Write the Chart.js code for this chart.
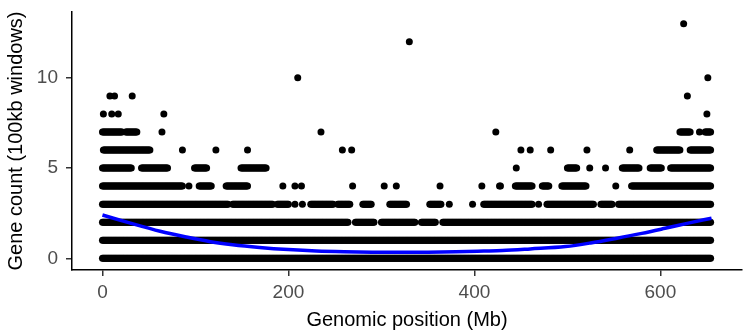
<!DOCTYPE html>
<html>
<head>
<meta charset="utf-8">
<script src="https://cdn.jsdelivr.net/npm/chart.js@4.4.0/dist/chart.umd.min.js"></script>
<style>
  html, body { margin: 0; padding: 0; background: #fff; }
  #wrap { width: 746px; height: 332px; }
</style>
</head>
<body>
<div id="wrap"><canvas id="geneChart" width="746" height="332"></canvas></div>
<script>
// Gene count levels and the runs of 100kb windows (start Mb, end Mb) found at each level.
const geneCounts = [0, 1, 2, 3, 4, 5, 6, 7, 8, 9, 10, 12, 13];
const windowRuns = [
    [[0, 654]],
    [[0, 654]],
    [[0, 264], [272, 292], [300, 336], [343, 358], [366, 654]],
    [[0, 135], [140, 183], [188, 200], [207, 207], [215, 215], [224, 248], [253, 266], [280, 289],
     [309, 327], [352, 364], [373, 373], [398, 398], [410, 462], [469, 469], [478, 528], [536, 548], [555, 654]],
    [[0, 86], [93, 93], [104, 117], [133, 156], [194, 194], [207, 207], [214, 214], [269, 269], [303, 303], [316, 316],
     [363, 363], [408, 408], [427, 428], [444, 462], [473, 480], [494, 520], [552, 552], [569, 654]],
    [[0, 31], [42, 70], [99, 112], [149, 176], [445, 445], [500, 510], [524, 524], [541, 541],
     [559, 577], [589, 601], [611, 654]],
    [[1, 51], [86, 86], [122, 122], [156, 156], [258, 258], [268, 268], [450, 450], [460, 460],
     [482, 482], [521, 521], [567, 567], [596, 621], [632, 654]],
    [[0, 21], [25, 37], [64, 64], [235, 235], [423, 423], [621, 632], [642, 642], [648, 654]],
    [[1, 1], [10, 10], [17, 17], [66, 66], [650, 650]],
    [[8, 8], [13, 13], [32, 32], [629, 629]],
    [[210, 210], [651, 651]],
    [[330, 330]],
    [[625, 625]]
];

// Loess fit
const smoothPos = [0, 30, 62, 90, 116, 140, 169, 200, 230, 260, 290, 320, 350, 380, 410, 430, 460, 498, 525, 552, 580, 605, 630, 655];
const smoothFit = [2.4, 1.95, 1.5, 1.18, 0.92, 0.75, 0.6, 0.48, 0.4, 0.36, 0.34, 0.33, 0.34, 0.36, 0.4, 0.43, 0.52, 0.65, 0.85, 1.1, 1.38, 1.66, 1.95, 2.22];

const xTickValues = [0, 200, 400, 600];
const yTickValues = [0, 5, 10];

// one point per Mb inside each run
const windowPoints = [];
geneCounts.forEach((count, i) => {
    windowRuns[i].forEach(([start, end]) => {
        for (let x = start; x <= end; x += 1) {
            windowPoints.push({ x: x, y: count });
        }
    });
});

const smoothPoints = smoothPos.map((x, i) => ({ x: x, y: smoothFit[i] }));

const tickFont = { family: 'Liberation Sans, Arial, sans-serif', size: 19 };
const titleFont = { family: 'Liberation Sans, Arial, sans-serif', size: 20 };

new Chart(document.getElementById('geneChart'), {
    type: 'scatter',
    data: {
        datasets: [
            {
                label: 'loess',
                data: smoothPoints,
                showLine: true,
                borderColor: '#0000ff',
                borderWidth: 3.5,
                pointRadius: 0,
                tension: 0.4,
                cubicInterpolationMode: 'monotone'
            },
            {
                label: 'windows',
                data: windowPoints,
                pointRadius: 3.5,
                pointBackgroundColor: '#000',
                pointBorderWidth: 0
            }
        ]
    },
    options: {
        responsive: false,
        animation: false,
        devicePixelRatio: 1,
        layout: { padding: { top: 12, right: 2, left: 0, bottom: 0 } },
        plugins: {
            legend: { display: false },
            tooltip: { enabled: false }
        },
        scales: {
            x: {
                type: 'linear',
                min: -32.75,
                max: 687.75,
                afterBuildTicks: (scale) => { scale.ticks = xTickValues.map(v => ({ value: v })); },
                afterFit: (scale) => {
                    scale.height = 62;
                    scale.paddingLeft = 0;
                    scale.paddingRight = 0;
                },
                ticks: { color: '#4d4d4d', font: tickFont, padding: 5 },
                grid: { drawOnChartArea: false, drawTicks: true, tickLength: 6, color: '#333', lineWidth: 1.5 },
                border: { display: true, color: '#000', width: 1.5 },
                title: { display: true, text: 'Genomic position (Mb)', color: '#000', font: titleFont, padding: { top: 0, bottom: 0 } }
            },
            y: {
                type: 'linear',
                min: -0.65,
                max: 13.65,
                afterBuildTicks: (scale) => { scale.ticks = yTickValues.map(v => ({ value: v })); },
                afterFit: (scale) => {
                    scale.width = 72;
                    scale.paddingTop = 0;
                    scale.paddingBottom = 0;
                },
                ticks: { color: '#4d4d4d', font: tickFont, padding: 8 },
                grid: { drawOnChartArea: false, drawTicks: true, tickLength: 6, color: '#333', lineWidth: 1.5 },
                border: { display: true, color: '#000', width: 1.5 },
                title: { display: true, text: 'Gene count (100kb windows)', color: '#000', font: titleFont, padding: { top: 4, bottom: 0 } }
            }
        }
    }
});
</script>
</body>
</html>
